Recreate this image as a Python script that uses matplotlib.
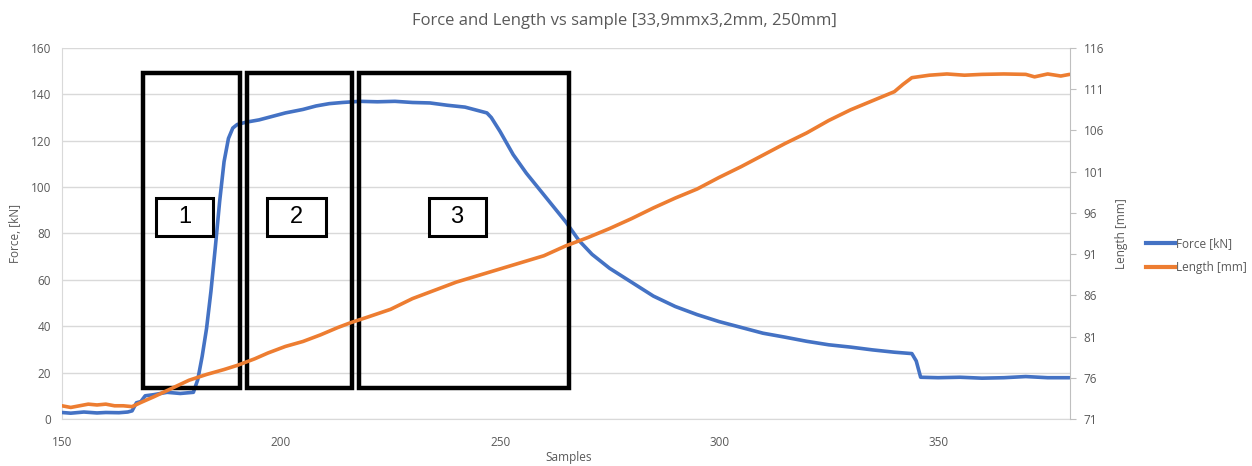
import matplotlib.pyplot as plt
from matplotlib.patches import Rectangle
from matplotlib.lines import Line2D

plt.rcParams['font.family'] = ['Open Sans', 'DejaVu Sans']

# Force [kN] readings (left axis)
force_samples = [150, 152, 155, 158, 160, 163, 165, 166, 167, 168, 169, 171, 174, 177, 180,
                 181, 182, 183, 184, 185, 186, 187, 188, 189, 190, 192, 195, 198, 201, 205,
                 208, 211, 214, 218, 222, 226, 230, 234, 238, 242, 245, 247, 248, 250, 253,
                 256, 259, 262, 265, 268, 271, 275, 280, 285, 290, 295, 300, 305, 310, 315,
                 320, 325, 330, 335, 340, 344, 345, 346, 350, 355, 360, 365, 370, 375, 380]
force_kn = [2.8, 2.5, 3.0, 2.6, 2.8, 2.7, 3.0, 3.5, 7.0, 7.5, 10.0, 10.5, 11.5, 11.0, 11.5,
            17.0, 27.0, 39.0, 55.0, 74.0, 94.0, 111.0, 121.0, 125.5, 127.0, 128.0, 129.0, 130.5, 132.0, 133.5,
            135.0, 136.0, 136.5, 137.0, 136.8, 137.0, 136.5, 136.3, 135.3, 134.5, 133.0, 132.0, 130.0, 124.0, 114.0,
            106.0, 99.0, 92.0, 85.0, 77.0, 71.0, 65.0, 59.0, 53.0, 48.5, 45.0, 42.0, 39.5, 37.0, 35.3,
            33.5, 32.0, 31.0, 29.8, 28.8, 28.2, 25.0, 18.0, 17.8, 18.0, 17.6, 17.8, 18.3, 17.8, 17.8]

# Length [mm] readings (right axis)
length_samples = [150, 152, 154, 156, 158, 160, 162, 164, 166, 168, 171, 175, 179, 183, 187,
                  190, 194, 197, 201, 205, 209, 213, 216, 220, 225, 230, 235, 240, 245, 250,
                  255, 260, 265, 270, 275, 280, 285, 290, 295, 300, 305, 310, 315, 320, 325,
                  330, 335, 340, 342, 344, 348, 352, 356, 360, 365, 370, 372, 375, 378, 380]
length_mm = [72.6, 72.4, 72.6, 72.8, 72.7, 72.8, 72.6, 72.6, 72.5, 73.0, 73.7, 74.7, 75.7, 76.4, 77.0,
             77.5, 78.3, 79.0, 79.8, 80.4, 81.2, 82.1, 82.7, 83.4, 84.3, 85.6, 86.6, 87.6, 88.4, 89.2,
             90.0, 90.8, 92.0, 93.0, 94.1, 95.3, 96.6, 97.8, 98.9, 100.3, 101.6, 103.0, 104.4, 105.7, 107.2,
             108.5, 109.6, 110.7, 111.6, 112.4, 112.7, 112.85, 112.7, 112.8, 112.85, 112.8, 112.5, 112.85, 112.6, 112.8]

# annotation regions: (x0, x1, label, label box x0, x1)
regions = [(168.5, 190.7, '1', 171.5, 184.5),
           (192.3, 216.3, '2', 196.9, 210.3),
           (217.7, 265.7, '3', 233.7, 246.7)]

blue = '#4472C4'
orange = '#ED7D31'
grey = '#595959'
grid = '#D9D9D9'

fig = plt.figure(figsize=(12.52, 4.66), dpi=100)
ax = fig.add_axes([0.0495, 0.1009, 0.8048, 0.7961])
ax2 = ax.twinx()

ax.plot(force_samples, force_kn, color=blue, lw=2.6, solid_capstyle='round', zorder=3)
ax2.plot(length_samples, length_mm, color=orange, lw=2.6, solid_capstyle='round', zorder=3)

ax.set_xlim(150, 380)
ax.set_ylim(0, 160)
ax.set_yticks(range(0, 161, 20))
ax.set_xticks([150, 200, 250, 300, 350])
ax2.set_ylim(71, 116)
ax2.set_yticks(range(71, 117, 5))

ax.yaxis.grid(True, color=grid, lw=1)
ax.set_axisbelow(True)
for a in (ax, ax2):
    for s in a.spines.values():
        s.set_visible(False)
ax.spines['bottom'].set_visible(True)
ax.spines['bottom'].set_color(grid)
ax.spines['left'].set_visible(True)
ax.spines['left'].set_color(grid)
ax2.spines['right'].set_visible(True)
ax2.spines['right'].set_color('#BFBFBF')

ax.tick_params(axis='both', length=0, labelsize=8.5, labelcolor=grey, pad=8)
ax.tick_params(axis='x', pad=12)
ax2.tick_params(axis='y', length=4, color='#BFBFBF', labelsize=8.5, labelcolor=grey, pad=6)

ax.set_xlabel('Samples', fontsize=8.5, color=grey)
ax.xaxis.set_label_coords(0.503, -0.085)
ax.set_ylabel('Force, [kN]', fontsize=8.5, color=grey)
ax.yaxis.set_label_coords(-0.04, 0.5)
ax2.set_ylabel('Length [mm]', fontsize=8.5, color=grey, labelpad=8)

fig.suptitle('Force and Length vs sample [33,9mmx3,2mm, 250mm]', x=0.499, y=0.972,
             fontsize=12, color=grey)

# black boxes marking the stages
for x0, x1, lab, lx0, lx1 in regions:
    ax.add_patch(Rectangle((x0, 13.2), x1 - x0, 136.2, fill=False, ec='black', lw=3.2, zorder=5))
    ax.add_patch(Rectangle((lx0 + 0.4, 78.0), lx1 - lx0, 16.4, fc='#BBBBBB', ec='none', zorder=5, alpha=0.6))
    ax.add_patch(Rectangle((lx0, 79.0), lx1 - lx0, 16.4, fc='white', ec='black', lw=2.2, zorder=6))
    ax.text((lx0 + lx1) / 2, 87.2, lab, ha='center', va='center', fontsize=17,
            family='Liberation Sans', zorder=7)

handles = [Line2D([], [], color=blue, lw=3), Line2D([], [], color=orange, lw=3)]
fig.legend(handles, ['Force [kN]', 'Length [mm]'], loc='center left', bbox_to_anchor=(0.907, 0.452),
           frameon=False, fontsize=8.5, labelcolor=grey, handlelength=2.4, handletextpad=0.1,
           labelspacing=0.9)

fig.savefig('out.png', dpi=100)
